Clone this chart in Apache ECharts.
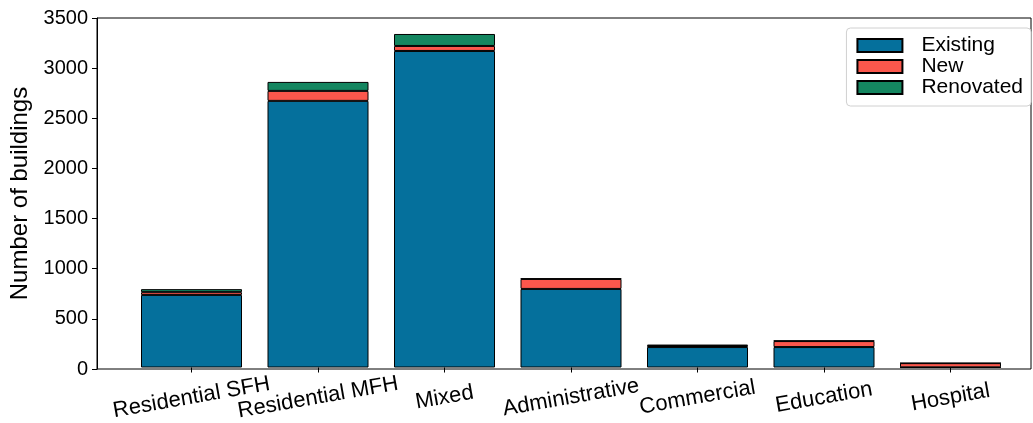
<!DOCTYPE html>
<html>
<head>
<meta charset="utf-8">
<script src="https://cdn.jsdelivr.net/npm/echarts@6/dist/echarts.min.js"></script>
<style>
  html, body { margin: 0; padding: 0; background: #fff; }
  #chart { width: 1033px; height: 423px; }
</style>
</head>
<body>
<div id="chart"></div>
<script>
// Building counts per category, split by status
const categories = ['Residential SFH', 'Residential MFH', 'Mixed', 'Administrative', 'Commercial', 'Education', 'Hospital'];
const existing = [727, 2670, 3170, 787, 205, 205, 2];
const newBuilt = [28, 100, 50, 100, 10, 60, 42];
const renovated = [30, 90, 120, 5, 15, 5, 0];
const yTicks = [0, 500, 1000, 1500, 2000, 2500, 3000, 3500];

const FONT = '"Liberation Sans", Arial, Helvetica, sans-serif';

function barSeries(name, values, color) {
  return {
    name: name,
    type: 'bar',
    stack: 'total',
    xAxisIndex: 1,
    yAxisIndex: 1,
    data: values,
    barWidth: 101,
    itemStyle: { color: color, borderColor: '#000', borderWidth: 1 },
    emphasis: { disabled: true }
  };
}

const chart = echarts.init(document.getElementById('chart'), null, { renderer: 'canvas' });
chart.setOption({
  animation: false,
  backgroundColor: '#fff',
  textStyle: { fontFamily: FONT },
  grid: [
    // outer frame with the visible value axis
    {
      left: 97, right: 2, top: 18, bottom: 54,
      show: true, borderColor: '#000', borderWidth: 1, backgroundColor: 'transparent'
    },
    // category bands for the bars
    { left: 128.25, right: 19.25, top: 18, bottom: 54 }
  ],
  legend: {
    orient: 'vertical',
    right: 2, top: 28,
    icon: 'rect',
    itemWidth: 45, itemHeight: 13, itemGap: 0,
    padding: [7, 8, 8, 10],
    backgroundColor: '#fff',
    borderColor: '#d0d0d0', borderWidth: 1, borderRadius: 4,
    textStyle: { fontFamily: FONT, fontSize: 21, color: '#000', lineHeight: 21, padding: [0, 0, 0, 14] },
    data: ['Existing', 'New', 'Renovated']
  },
  xAxis: [
    {
      gridIndex: 0,
      type: 'value', min: 0, max: 1,
      show: false
    },
    {
      gridIndex: 1,
      type: 'category',
      data: categories,
      boundaryGap: true,
      axisLine: { show: false },
      axisTick: { show: true, alignWithLabel: true, length: 5, lineStyle: { color: '#000' } },
      axisLabel: {
        interval: 0,
        rotate: 10,
        align: 'center',
        verticalAlign: 'middle',
        margin: 30,
        fontFamily: FONT, fontSize: 22, color: '#000'
      }
    }
  ],
  yAxis: [
    {
      gridIndex: 0,
      type: 'value',
      min: 0, max: 3500, interval: 500,
      name: 'Number of buildings',
      nameLocation: 'middle',
      nameGap: 63,
      nameTextStyle: { fontFamily: FONT, fontSize: 24, color: '#000' },
      splitLine: { show: false },
      axisLine: { show: true, lineStyle: { color: '#000', width: 1 } },
      axisTick: { show: true, length: 5, lineStyle: { color: '#000' } },
      axisLabel: {
        customValues: yTicks,
        formatter: v => String(v),
        margin: 9,
        fontFamily: FONT, fontSize: 20, color: '#000'
      }
    },
    {
      gridIndex: 1,
      type: 'value',
      min: 0, max: 3500,
      show: false
    }
  ],
  series: [
    barSeries('Existing', existing, '#05709c'),
    barSeries('New', newBuilt, '#fb574c'),
    barSeries('Renovated', renovated, '#148660')
  ]
});
</script>
</body>
</html>
